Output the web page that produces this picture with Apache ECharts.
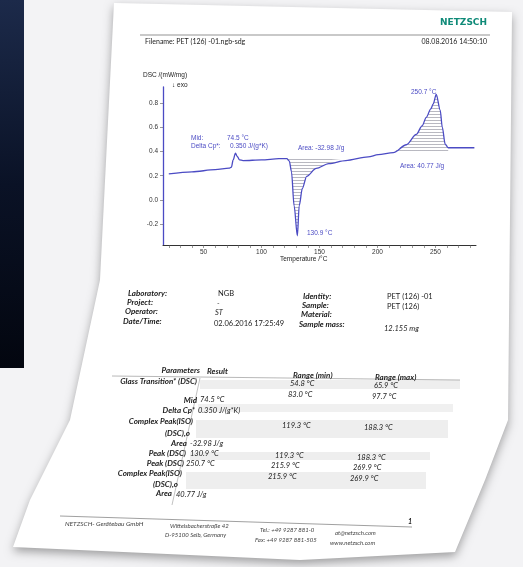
<!DOCTYPE html>
<html><head><meta charset="utf-8">
<script src="https://cdn.jsdelivr.net/npm/echarts@6/dist/echarts.min.js"></script>
<style>html,body{margin:0;padding:0;background:#f3f3f5}#c{width:523px;height:567px}</style>
</head><body><div id="c"></div>
<script>
// DSC curve (temperature in °C, heat flow in mW/mg)
const temperature = [20, 40, 60, 72, 74, 75.5, 77.5, 79, 81, 84, 100, 115, 121.8, 124, 125.8, 128.1, 130.9, 132.5, 135.2, 138.9, 147.2, 158, 172.6, 192, 200.6, 213.7, 224.9, 233.5, 238.5, 242.1, 246, 248.1, 250.7, 254.1, 255.9, 258.4, 261, 283.6];
const dsc = [0.215, 0.232, 0.25, 0.262, 0.27, 0.33, 0.385, 0.36, 0.33, 0.325, 0.33, 0.34, 0.34, 0.32, 0.234, -0.047, -0.295, -0.046, 0.095, 0.195, 0.26, 0.30, 0.325, 0.355, 0.373, 0.39, 0.455, 0.54, 0.61, 0.68, 0.75, 0.79, 0.87, 0.74, 0.60, 0.46, 0.43, 0.43];
const crystRange = [121.8, 172.6];   // hatched area, cold crystallisation
const meltRange = [213.7, 261];      // hatched area, melting
const xTickLabels = [50, 100, 150, 200, 250];
const xMinorTicks = [20, 30, 40, 50, 60, 70, 80, 90, 100, 110, 120, 130, 140, 150, 160, 170, 180, 190, 200, 210, 220, 230, 240, 250, 260, 270, 280];
const yTickLabels = [-0.2, 0.0, 0.2, 0.4, 0.6, 0.8];

const pts = temperature.map((t, i) => [t, dsc[i]]);
const sub = r => pts.filter(p => p[0] >= r[0] && p[0] <= r[1]);

const pc = document.createElement('canvas');
pc.width = 4; pc.height = 3;
const g = pc.getContext('2d');
g.fillStyle = '#9a9aa6'; g.fillRect(0, 0, 4, 1);

const blue = '#4b4bc4';
const docFont = 'Lato, "Open Sans", sans-serif';
const chartFont = '"Liberation Sans", sans-serif';
const T = (x, y, text, o) => ({type: 'text', x, y, style: Object.assign({text, fill: '#222', fontSize: 7.5, fontFamily: docFont}, o || {})});
const C = (x, y, text, o) => T(x, y, text, Object.assign({fontSize: 6.5, fontFamily: chartFont}, o || {}));
const A = (x, y, text) => C(x, y, text, {fill: blue});
const lab = (x, y, text, extra) => T(x, y, text, Object.assign({fontWeight: 'bold', fontStyle: 'italic', fontSize: 8}, extra || {}));
const val = (x, y, text, extra) => T(x, y, text, Object.assign({fontStyle: 'italic', fontSize: 7.5}, extra || {}));
const R = {textAlign: 'right'};

const chart = echarts.init(document.getElementById('c'));
chart.setOption({
  animation: false,
  graphic: [
    {type: 'rect', z: -10, shape: {x: 0, y: 0, width: 24, height: 368}, style: {fill: new echarts.graphic.LinearGradient(0, 0, 0, 1, [{offset: 0, color: '#1c2a4a'}, {offset: 0.5, color: '#0a1226'}, {offset: 1, color: '#03060f'}])}},
    {type: 'polygon', z: -9, shape: {points: [[114, 3], [512, 12], [508, 420], [485, 480], [455, 552], [300, 560], [13, 547], [30, 500], [70, 420], [100, 280]]}, style: {fill: '#fff', shadowBlur: 10, shadowColor: 'rgba(0,0,0,0.35)', shadowOffsetY: 4}},
    // header
    T(487, 18, 'NETZSCH', {textAlign: 'right', fill: '#0f8a78', fontWeight: 'bold', fontSize: 9, fontFamily: '"DejaVu Sans", sans-serif'}),
    {type: 'line', shape: {x1: 140, y1: 35, x2: 490, y2: 35}, style: {stroke: '#666', lineWidth: 0.7}},
    T(145, 38, 'Filename: PET (126) -01.ngb-sdg', {fontSize: 7}),
    T(487, 38, '08.08.2016 14:50:10', {textAlign: 'right', fontSize: 7}),
    // chart titles & annotations
    C(143, 72, 'DSC /(mW/mg)'),
    C(172, 82, '↓ exo'),
    C(280, 256, 'Temperature /°C'),
    A(191, 135, 'Mid:'), A(227, 135, '74.5 °C'),
    A(191, 143, 'Delta Cp*:'), A(230, 143, '0.350 J/(g*K)'),
    A(298, 145, 'Area: -32.98 J/g'),
    A(307, 230, '130.9 °C'),
    A(411, 89, '250.7 °C'),
    A(400, 163, 'Area: 40.77 J/g'),
    // info block
    lab(128, 289, 'Laboratory:'), lab(127, 298, 'Project:'), lab(125, 307, 'Operator:'), lab(123, 317, 'Date/Time:'),
    val(218, 290, 'NGB', {fontStyle: 'normal'}), val(217, 300, '-'), val(215, 309, 'ST'), val(214, 320, '02.06.2016 17:25:49', {fontStyle: 'normal'}),
    lab(303, 292, 'Identity:'), lab(302, 301, 'Sample:'), lab(301, 310, 'Material:'), lab(299, 320, 'Sample mass:'),
    val(387, 293, 'PET (126) -01', {fontStyle: 'normal'}), val(387, 303, 'PET (126)', {fontStyle: 'normal'}), val(384, 325, '12.155 mg'),
    // table shading
    {type: 'rect', z: -5, shape: {x: 200, y: 380, width: 260, height: 9}, style: {fill: '#eeeeee'}},
    {type: 'rect', z: -5, shape: {x: 198, y: 404, width: 255, height: 8}, style: {fill: '#f0f0f0'}},
    {type: 'rect', z: -5, shape: {x: 196, y: 420, width: 252, height: 18}, style: {fill: '#eeeeee'}},
    {type: 'rect', z: -5, shape: {x: 190, y: 452, width: 240, height: 8}, style: {fill: '#eeeeee'}},
    {type: 'rect', z: -5, shape: {x: 186, y: 472, width: 240, height: 17}, style: {fill: '#eeeeee'}},
    {type: 'line', shape: {x1: 112, y1: 376, x2: 460, y2: 380}, style: {stroke: '#888', lineWidth: 0.6}},
    {type: 'line', shape: {x1: 200, y1: 378, x2: 172, y2: 505}, style: {stroke: '#999', lineWidth: 0.6}},
    lab(200, 366, 'Parameters', R), lab(207, 367, 'Result'), lab(293, 371, 'Range (min)'), lab(375, 373, 'Range (max)'),
    lab(197, 377, 'Glass Transition* (DSC)', R),
    val(290, 380, '54.8 °C'), val(374, 382, '65.9 °C'), val(288, 391, '83.0 °C'), val(372, 393, '97.7 °C'),
    lab(197, 396, 'Mid', R), val(200, 396, '74.5 °C'),
    lab(195, 406, 'Delta Cp*', R), val(198, 407, '0.350 J/(g*K)'),
    lab(193, 417, 'Complex Peak(ISO)', R), lab(190, 429, '(DSC),o', R), val(282, 422, '119.3 °C'), val(364, 424, '188.3 °C'),
    lab(187, 439, 'Area', R), val(190, 440, '-32.98 J/g'),
    lab(186, 449, 'Peak (DSC)', R), val(190, 450, '130.9 °C'), val(275, 452, '119.3 °C'), val(357, 454, '188.3 °C'),
    lab(184, 459, 'Peak (DSC)', R), val(186, 460, '250.7 °C'), val(271, 462, '215.9 °C'), val(353, 464, '269.9 °C'),
    lab(182, 469, 'Complex Peak(ISO)', R), lab(178, 480, '(DSC),o', R), val(268, 473, '215.9 °C'), val(350, 475, '269.9 °C'),
    lab(172, 489, 'Area', R), val(176, 491, '40.77 J/g'),
    // footer
    {type: 'line', shape: {x1: 60, y1: 516, x2: 412, y2: 527}, style: {stroke: '#777', lineWidth: 0.7}},
    val(65, 520, 'NETZSCH- Gerätebau GmbH', {fontSize: 6.5, fill: '#444'}),
    val(170, 523, 'Wittelsbacherstraße 42', {fontSize: 6, fill: '#444'}),
    val(165, 532, 'D-95100 Selb, Germany', {fontSize: 6, fill: '#444'}),
    val(260, 527, 'Tel.: +49 9287 881-0', {fontSize: 6, fill: '#444'}),
    val(255, 537, 'Fax: +49 9287 881-505', {fontSize: 6, fill: '#444'}),
    val(335, 530, 'at@netzsch.com', {fontSize: 6, fill: '#444'}),
    val(330, 540, 'www.netzsch.com', {fontSize: 6, fill: '#444'}),
    lab(408, 518, '1', {fontSize: 7})
  ],
  grid: {left: 163, right: 47, top: 87, bottom: 322},
  xAxis: {
    type: 'value', min: 15, max: 285,
    axisLine: {onZero: false, lineStyle: {color: '#333', width: 1}},
    axisTick: {length: 3, customValues: xMinorTicks, lineStyle: {color: '#555', width: 0.6}},
    axisLabel: {customValues: xTickLabels, fontSize: 6.5, color: '#333', margin: 4, fontFamily: chartFont},
    splitLine: {show: false}
  },
  yAxis: {
    type: 'value', min: -0.37, max: 0.93,
    axisLine: {show: true, lineStyle: {color: blue, width: 1.3}},
    axisTick: {show: true, length: 3, customValues: yTickLabels, lineStyle: {color: '#555', width: 0.6}},
    axisLabel: {customValues: yTickLabels, fontSize: 6.5, color: '#333', margin: 5, fontFamily: chartFont, formatter: v => v.toFixed(1)},
    splitLine: {show: false}
  },
  series: [
    {type: 'line', data: sub(crystRange), showSymbol: false, smooth: 0.3, smoothMonotone: 'x', lineStyle: {width: 0}, areaStyle: {origin: 0.34, color: {image: pc, repeat: 'repeat'}}, silent: true},
    {type: 'line', data: sub(meltRange), showSymbol: false, smooth: 0.3, smoothMonotone: 'x', lineStyle: {width: 0}, areaStyle: {origin: 0.40, color: {image: pc, repeat: 'repeat'}}, silent: true},
    {type: 'line', data: pts, showSymbol: false, smooth: 0.3, smoothMonotone: 'x', lineStyle: {color: blue, width: 1.3}, z: 5}
  ]
});
</script></body></html>
